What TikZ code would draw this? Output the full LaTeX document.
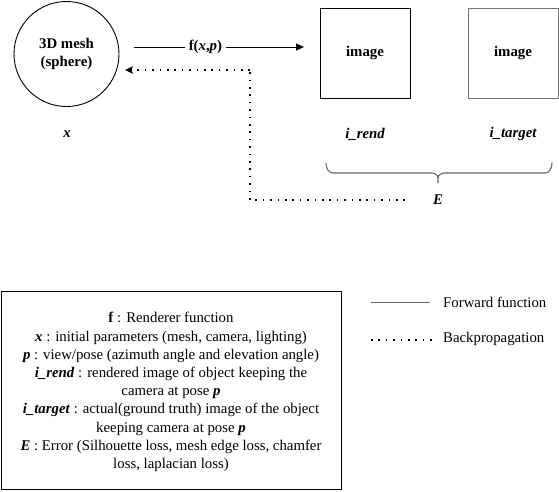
\documentclass[tikz,border=0pt]{standalone}
\usepackage{fontspec}
\setmainfont{Liberation Serif}
\usetikzlibrary{arrows.meta}
\begin{document}
\begin{tikzpicture}[x=1pt,y=-1pt,
  txt/.style={font=\fontsize{14.8}{18.2}\selectfont, inner sep=1pt},
  btxt/.style={font=\fontsize{14.8}{18.2}\selectfont\bfseries, inner sep=1pt},
  lbl/.style={font=\fontsize{14.8}{18.2}\selectfont\bfseries\itshape, inner sep=1pt},
  imgbox/.style={draw, line width=0.9pt, minimum width=90pt, minimum height=90pt, font=\fontsize{14.8}{18.2}\selectfont\bfseries},
  fwd/.style={draw, line width=0.9pt, -{Triangle[length=8pt,width=7pt]}},
  back/.style={line width=1.6pt, dash pattern=on 1.6pt off 5.8pt, -{Stealth[length=8pt,width=7.5pt,inset=2pt]}},
  backplain/.style={line width=1.6pt, dash pattern=on 1.6pt off 5.8pt},
  bracestyle/.style={draw=black!60, line width=1.1pt}
]
\useasboundingbox (0,0) rectangle (559,491);

% main nodes
\node[circle, draw, line width=0.9pt, minimum size=105pt, inner sep=0pt, btxt, align=center] (mesh) at (66.5,54) {3D mesh\\(sphere)};
\node[imgbox] (rend) at (365,53) {image};
\node[imgbox, draw=black!55] (target) at (513,53) {image};

\node[lbl] (xlbl) at (67,134) {x};
\node[lbl] (rendlbl) at (365,134) {i\_rend};
\node[lbl] (targetlbl) at (513,134) {i\_target};
\node[lbl] (E) at (438,200) {E};

% forward arrow
\coordinate (fstart) at (134,47);
\coordinate (fend) at (304,47);
\draw[fwd] (fstart) -- node[pos=0.42, fill=white, btxt, inner xsep=4pt] (flbl) {f(\textit{x},\textit{p})} (fend);

% backpropagation
\coordinate (bstart) at (405,200);
\coordinate (bc1) at (250,200);
\coordinate (bc2) at (250,70);
\coordinate (bend) at (125,70);
\draw[backplain] (bstart) -- (bc1) -- (bc2);
\draw[back] (bc2) -- (bend);

% brace
\draw[bracestyle] (326,163) to[out=-90,in=180] (333,173) -- (431,173)
  to[out=0,in=90] (438,178) -- (438,183);
\draw[bracestyle] (438,178) to[out=90,in=180] (445,173) -- (545,173)
  to[out=0,in=-90] (552,163);

% legend box
\node[draw, line width=0.9pt, minimum width=340pt, minimum height=198pt] (legend) at (171,390) {};
\node[txt, align=center] (legendtxt) at (171,392) {%
\textbf{f} : Renderer function\\
\textbf{\textit{x}} : initial parameters (mesh, camera, lighting)\\
\textbf{\textit{p}} : view/pose (azimuth angle and elevation angle)\\
\textbf{\textit{i\_rend}} : rendered image of object keeping the\\
camera at pose \textbf{\textit{p}}\\
\textbf{\textit{i\_target}} : actual(ground truth) image of the object\\
keeping camera at pose \textbf{\textit{p}}\\
\textbf{\textit{E}} : Error (Silhouette loss, mesh edge loss, chamfer\\
loss, laplacian loss)};

% key
\coordinate (k1a) at (371,302);
\coordinate (k1b) at (430,302);
\coordinate (k2a) at (371,340);
\coordinate (k2b) at (432,340);
\draw[draw=black!60, line width=1pt] (k1a) -- (k1b);
\draw[backplain] (k2a) -- (k2b);
\node[txt, anchor=west] (kf) at (442,302) {Forward function};
\node[txt, anchor=west] (kb) at (442,339) {Backpropagation};
\end{tikzpicture}
\end{document}
